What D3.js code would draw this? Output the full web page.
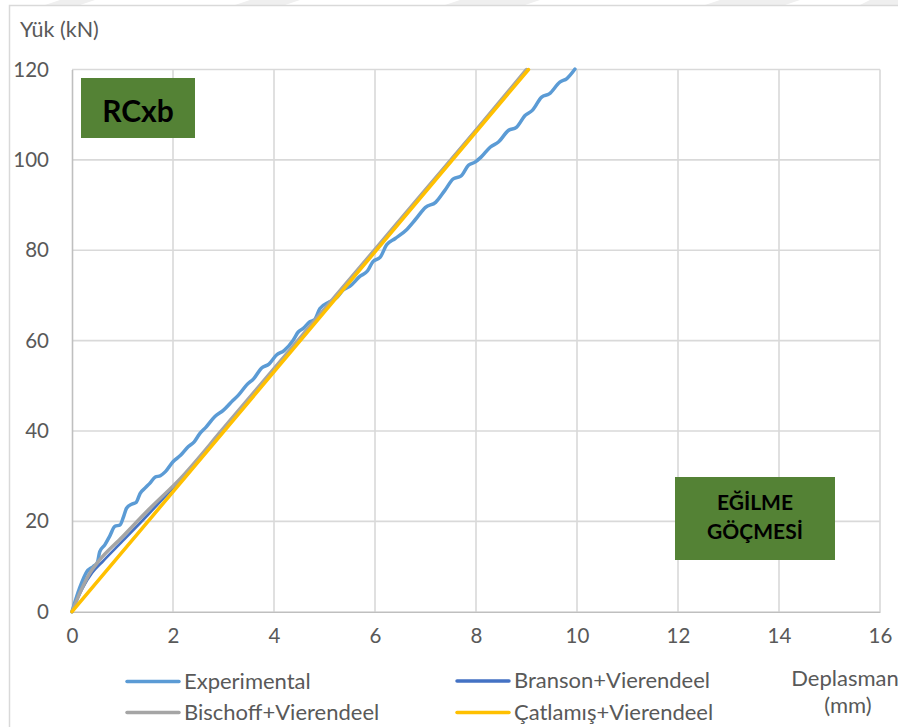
<!DOCTYPE html>
<html>
<head>
<meta charset="utf-8">
<script src="https://cdn.jsdelivr.net/npm/d3@7"></script>
<style>
  html, body { margin: 0; padding: 0; background: #fff; }
  svg { display: block; }
  text { font-family: Lato, "Open Sans", sans-serif; }
</style>
</head>
<body>
<svg id="chart" width="898" height="727"></svg>
<script>
// Load–displacement curves (displacement in mm, load in kN)
const expX = [0, 0.15, 0.29, 0.42, 0.5, 0.55, 0.65, 0.75, 0.85, 0.95, 1.02, 1.08, 1.18, 1.27, 1.35, 1.45, 1.54, 1.65, 1.75, 1.85, 2.0, 2.15, 2.3, 2.42, 2.53, 2.65, 2.83, 3.0, 3.19, 3.3, 3.46, 3.6, 3.75, 3.9, 4.05, 4.2, 4.38, 4.48, 4.58, 4.71, 4.8, 4.91, 5.1, 5.25, 5.37, 5.5, 5.7, 5.85, 5.96, 6.1, 6.23, 6.4, 6.62, 6.8, 7.0, 7.2, 7.38, 7.55, 7.7, 7.85, 7.98, 8.1, 8.28, 8.45, 8.64, 8.8, 8.97, 9.12, 9.3, 9.45, 9.66, 9.8, 9.96];
const expY = [0, 5.2, 8.8, 10.0, 10.8, 13.3, 14.8, 16.8, 18.9, 19.2, 21.0, 22.9, 23.8, 24.2, 26.2, 27.4, 28.4, 29.8, 30.1, 31.0, 33.2, 34.6, 36.5, 37.6, 39.4, 40.8, 43.2, 44.6, 46.8, 48.0, 50.2, 51.6, 53.9, 54.8, 56.8, 57.8, 60.1, 61.9, 62.7, 64.2, 64.6, 67.1, 68.6, 69.6, 71.2, 72.0, 74.2, 75.4, 77.5, 78.4, 81.2, 82.6, 84.5, 86.8, 89.5, 90.6, 93.2, 95.8, 96.4, 98.8, 99.5, 100.6, 102.8, 104.0, 106.5, 107.2, 109.8, 111.0, 113.9, 114.6, 117.2, 118.0, 120.1];

const bransonX = [0, 0.2, 0.4, 0.6, 1.0, 1.5, 2.0, 3.0, 4.0, 5.0, 6.0, 7.0, 8.0, 9.02];
const bransonY = [0, 5.0, 8.6, 11.0, 15.6, 21.4, 27.4, 40.4, 53.6, 66.8, 80.0, 93.3, 106.6, 120];

const bischoffX = [0, 0.15, 0.35, 0.52, 1.0, 1.5, 2.14, 3.0, 4.0, 5.0, 6.0, 7.0, 8.0, 9.0];
const bischoffY = [0, 4.0, 8.5, 11.1, 16.6, 22.4, 29.4, 40.6, 53.8, 67.0, 80.2, 93.4, 106.6, 120];

const crackedX = [0, 9.04];
const crackedY = [0, 120];

const xTicks = [0, 2, 4, 6, 8, 10, 12, 14, 16];
const yTicks = [0, 20, 40, 60, 80, 100, 120];

const seriesNames = ["Experimental", "Branson+Vierendeel", "Bischoff+Vierendeel", "Çatlamış+Vierendeel"];
const seriesColors = ["#5b9bd5", "#4472c4", "#a5a5a5", "#ffc000"];

const svg = d3.select("#chart");

// faint shapes along the top edge
const wm = svg.append("g").attr("fill", "#efefef");
[[60, 95, 80, 45], [250, 300, 285, 235], [460, 540, 525, 445], [720, 800, 785, 705], [870, 898, 898, 860]]
  .forEach(p => wm.append("polygon").attr("points", `${p[0]},0 ${p[1]},0 ${p[2]},5 ${p[3]},5`));

// chart area frame
svg.append("rect").attr("x", 9.5).attr("y", 5.5).attr("width", 900).attr("height", 740)
  .attr("fill", "none").attr("stroke", "#d9d9d9").attr("stroke-width", 1.5);

const L = 72, R = 880, T = 69.5, B = 611.7;
const x = d3.scaleLinear().domain([0, 16]).range([L, R]);
const y = d3.scaleLinear().domain([0, 120]).range([B, T]);

// gridlines
const grid = svg.append("g").attr("stroke", "#d9d9d9").attr("stroke-width", 1.6);
xTicks.filter(t => t > 0).forEach(t => grid.append("line").attr("x1", x(t)).attr("x2", x(t)).attr("y1", T).attr("y2", B));
yTicks.filter(t => t > 0).forEach(t => grid.append("line").attr("x1", L).attr("x2", R).attr("y1", y(t)).attr("y2", y(t)));

// axes
const xAxis = svg.append("g").attr("transform", `translate(0,${B})`)
  .call(d3.axisBottom(x).tickValues(xTicks).tickSize(0).tickPadding(23));
const yAxis = svg.append("g").attr("transform", `translate(${L},0)`)
  .call(d3.axisLeft(y).tickValues(yTicks).tickSize(0).tickPadding(23));
[xAxis, yAxis].forEach(a => {
  a.select(".domain").attr("stroke", "#bfbfbf").attr("stroke-width", 1.6);
  a.selectAll("text").attr("fill", "#595959").style("font-size", "20.5px")
    .style("font-family", "Lato, 'Open Sans', sans-serif");
});
xAxis.selectAll("text").attr("dy", "0.42em");

// series lines, drawn in legend order
const zip = (a, b) => a.map((v, i) => [v, b[i]]);
const series = [zip(expX, expY), zip(bransonX, bransonY), zip(bischoffX, bischoffY), zip(crackedX, crackedY)];
const plot = svg.append("g");
series.forEach((s, i) => {
  const line = d3.line().x(d => x(d[0])).y(d => y(d[1])).curve(d3.curveMonotoneX);
  plot.append("path").datum(s).attr("d", line)
    .attr("fill", "none").attr("stroke", seriesColors[i])
    .attr("stroke-width", i === 1 ? 2.6 : 3.5)
    .attr("stroke-linejoin", "round").attr("stroke-linecap", "round");
});

// axis titles
svg.append("text").attr("x", 20).attr("y", 37).attr("fill", "#595959").style("font-size", "21.5px").text("Yük (kN)");
svg.append("text").attr("x", 845).attr("y", 686).attr("text-anchor", "middle").attr("fill", "#595959").style("font-size", "22px").text("Deplasman");
svg.append("text").attr("x", 848).attr("y", 713).attr("text-anchor", "middle").attr("fill", "#595959").style("font-size", "22px").text("(mm)");

// legend
const legendPos = [[127, 681.5], [457, 681], [127, 712.5], [457, 712.5]];
seriesNames.forEach((n, i) => {
  const [lx, ly] = legendPos[i];
  svg.append("line").attr("x1", lx).attr("x2", lx + 52).attr("y1", ly).attr("y2", ly)
    .attr("stroke", seriesColors[i]).attr("stroke-width", 3.5).attr("stroke-linecap", "round");
  svg.append("text").attr("x", lx + 57).attr("y", ly + 7).attr("fill", "#595959").style("font-size", "22px").text(n);
});

// annotation boxes
svg.append("rect").attr("x", 81).attr("y", 78).attr("width", 114).attr("height", 60).attr("fill", "#548235");
svg.append("text").attr("x", 138).attr("y", 121.5).attr("text-anchor", "middle").attr("fill", "#000")
  .style("font-size", "30px").style("font-weight", "bold").text("RCxb");

svg.append("rect").attr("x", 675).attr("y", 477).attr("width", 160).attr("height", 83).attr("fill", "#548235");
svg.append("text").attr("x", 755).attr("y", 510).attr("text-anchor", "middle").attr("fill", "#000")
  .style("font-size", "21px").style("font-weight", "bold").text("EĞİLME");
svg.append("text").attr("x", 755).attr("y", 538.5).attr("text-anchor", "middle").attr("fill", "#000")
  .style("font-size", "21px").style("font-weight", "bold").text("GÖÇMESİ");
</script>
</body>
</html>
